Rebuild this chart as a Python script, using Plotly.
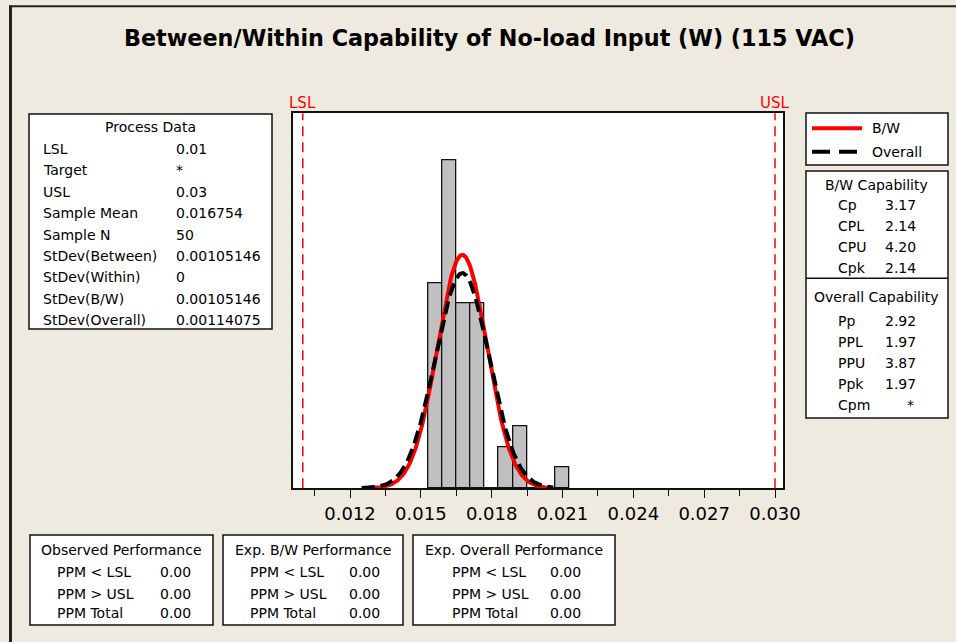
import numpy as np
import plotly.graph_objects as go

W, H = 956, 642
BG = "#EEEAE0"
FONT = "DejaVu Sans"

# Specification limits and process statistics
LSL = 0.01
USL = 0.03
TARGET = "*"
MEAN = 0.016754
N = 50
SD_BETWEEN = 0.00105146
SD_WITHIN = 0
SD_BW = 0.00105146
SD_OVERALL = 0.00114075

# Histogram of the measurements (bin centres and counts)
BIN_WIDTH = 0.0006
BIN_CENTERS = [0.0156, 0.0162, 0.0168, 0.0174, 0.0180, 0.0186, 0.0192, 0.0198, 0.0204, 0.0210]
BIN_COUNTS = [10, 16, 9, 9, 0, 2, 3, 0, 0, 1]

# Span over which the fitted normal curves are drawn
CURVE_MIN = 0.0125
CURVE_MAX = 0.0206

X_TICKS = [0.012, 0.015, 0.018, 0.021, 0.024, 0.027, 0.030]
X_MINOR_TICKS = [0.0105, 0.0135, 0.0165, 0.0195, 0.0225, 0.0255, 0.0285]

# Summary tables
PROCESS_LABELS = ["LSL", "Target", "USL", "Sample Mean", "Sample N",
                  "StDev(Between)", "StDev(Within)", "StDev(B/W)", "StDev(Overall)"]
PROCESS_VALUES = [f"{LSL:g}", TARGET, f"{USL:g}", f"{MEAN:g}", f"{N}",
                  f"{SD_BETWEEN:g}", f"{SD_WITHIN:g}", f"{SD_BW:g}", f"{SD_OVERALL:g}"]

BW_CAP_LABELS = ["Cp", "CPL", "CPU", "Cpk"]
BW_CAP_VALUES = ["3.17", "2.14", "4.20", "2.14"]
OV_CAP_LABELS = ["Pp", "PPL", "PPU", "Ppk", "Cpm"]
OV_CAP_VALUES = ["2.92", "1.97", "3.87", "1.97", "*"]

PERF_TITLES = ["Observed Performance", "Exp. B/W Performance", "Exp. Overall Performance"]
PERF_LABELS = ["PPM < LSL", "PPM > USL", "PPM Total"]
PERF_VALUES = [["0.00", "0.00", "0.00"],
               ["0.00", "0.00", "0.00"],
               ["0.00", "0.00", "0.00"]]


def fx(x):
    return x / W


def fy(y):
    return 1 - y / H


def normal_curve(sd):
    xs = np.linspace(CURVE_MIN, CURVE_MAX, 400)
    ys = N * BIN_WIDTH * np.exp(-0.5 * ((xs - MEAN) / sd) ** 2) / (sd * np.sqrt(2 * np.pi))
    return xs, ys


fig = go.Figure()

fig.add_trace(go.Bar(
    x=BIN_CENTERS, y=BIN_COUNTS, width=BIN_WIDTH,
    marker=dict(color="#C0C0C0", line=dict(color="#111111", width=1.3)),
    hoverinfo="skip",
))

xb, yb = normal_curve(SD_BW)
fig.add_trace(go.Scatter(x=xb, y=yb, mode="lines",
                         line=dict(color="#FF0000", width=4), hoverinfo="skip"))
xo, yo = normal_curve(SD_OVERALL)
fig.add_trace(go.Scatter(x=xo, y=yo, mode="lines",
                         line=dict(color="#000000", width=4, dash="13px,6px"), hoverinfo="skip"))

shapes = []
annotations = []


def text(x, y, s, size=14, anchor="left", color="black", bold=False, family=FONT):
    annotations.append(dict(
        x=fx(x), y=fy(y), xref="paper", yref="paper", text=(f"<b>{s}</b>" if bold else s),
        showarrow=False, xanchor=anchor, yanchor="middle",
        font=dict(family=family, size=size, color=color),
    ))


def box(x0, y0, x1, y1):
    shapes.append(dict(type="rect", xref="paper", yref="paper",
                       x0=fx(x0), x1=fx(x1), y0=fy(y1), y1=fy(y0),
                       fillcolor="white", line=dict(color="#111111", width=1.5)))


def hline(x0, x1, y, color, width, dash="solid"):
    shapes.append(dict(type="line", xref="paper", yref="paper",
                       x0=fx(x0), x1=fx(x1), y0=fy(y), y1=fy(y),
                       line=dict(color=color, width=width, dash=dash)))


# Window frame edges
shapes.append(dict(type="line", xref="paper", yref="paper", x0=fx(10.5), x1=fx(10.5),
                   y0=fy(5.5), y1=0, line=dict(color="#222222", width=3)))
shapes.append(dict(type="line", xref="paper", yref="paper", x0=fx(9), x1=1,
                   y0=fy(6.3), y1=fy(6.3), line=dict(color="#222222", width=2)))

# Specification limit lines
for v, name in [(LSL, "LSL"), (USL, "USL")]:
    shapes.append(dict(type="line", xref="x", yref="y domain", x0=v, x1=v, y0=0, y1=1,
                       line=dict(color="#FF0000", width=1.5, dash="10px,6px")))
    annotations.append(dict(x=v, y=fy(103), xref="x", yref="paper", text=name,
                            showarrow=False, xanchor="center", yanchor="middle",
                            font=dict(family=FONT, size=15, color="#FF0000")))

# Title
text(489, 37.5, "Between/Within Capability of No-load Input (W) (115 VAC)",
     size=22.3, anchor="center", bold=True)

# Process data table
box(29, 114, 272, 329)
text(150.5, 127, "Process Data", anchor="center")
for i, (lab, val) in enumerate(zip(PROCESS_LABELS, PROCESS_VALUES)):
    y = 149 + i * 21.4
    text(41, y, lab)
    text(174, y, val)

# Legend
box(806, 113, 948, 165)
hline(812, 862, 128.3, "#FF0000", 4)
text(870, 128, "B/W")
hline(812, 862, 151.7, "#000000", 4, dash="18px,9px")
text(870, 152, "Overall")

# Capability tables
box(806, 171, 948, 418)
hline(806, 948, 278.3, "#111111", 1.5)
text(876, 185, "B/W Capability", anchor="center")
for i, (lab, val) in enumerate(zip(BW_CAP_LABELS, BW_CAP_VALUES)):
    y = 204.5 + i * 21.3
    text(836, y, lab)
    text(882.5, y, val)
text(876, 296.7, "Overall Capability", anchor="center")
for i, (lab, val) in enumerate(zip(OV_CAP_LABELS, OV_CAP_VALUES)):
    y = 321 + i * 21
    text(836, y, lab)
    if val == "*":
        text(910, y, val, anchor="center")
    else:
        text(882.5, y, val)

# Performance tables
perf_boxes = [(30, 213, 55, 158), (223, 403, 248, 347), (413, 615, 450, 548)]
for (x0, x1, lx, vx), title, vals in zip(perf_boxes, PERF_TITLES, PERF_VALUES):
    box(x0, 535, x1, 625)
    text((x0 + x1) / 2, 550, title, anchor="center")
    for j, (lab, val) in enumerate(zip(PERF_LABELS, vals)):
        y = [571.7, 593.5, 613.3][j]
        text(lx, y, lab)
        text(vx, y, val)

fig.update_layout(
    width=W, height=H, autosize=False,
    margin=dict(l=0, r=0, t=0, b=0, pad=0),
    paper_bgcolor=BG, plot_bgcolor="white",
    showlegend=False, bargap=0,
    shapes=shapes, annotations=annotations,
    xaxis=dict(
        domain=[fx(293.3), fx(783.3)],
        range=[0.0095986, 0.0303515],
        automargin=False,
        tickvals=X_TICKS, ticktext=[f"{v:.3f}" for v in X_TICKS],
        ticks="outside", ticklen=8, tickwidth=1.3, tickcolor="#111111",
        minor=dict(tickvals=X_MINOR_TICKS,
                   ticks="outside", ticklen=6, tickwidth=1.3, tickcolor="#111111"),
        showline=True, linecolor="#111111", linewidth=1.5, mirror=True,
        showgrid=False, zeroline=False,
        tickfont=dict(family=FONT, size=18, color="black"),
    ),
    yaxis=dict(
        domain=[fy(488.3), fy(113.3)],
        range=[0, 18.28],
        automargin=False,
        showticklabels=False, ticks="",
        showline=True, linecolor="#111111", linewidth=1.5, mirror=True,
        showgrid=False, zeroline=False,
    ),
)

fig.write_html("out.html")
